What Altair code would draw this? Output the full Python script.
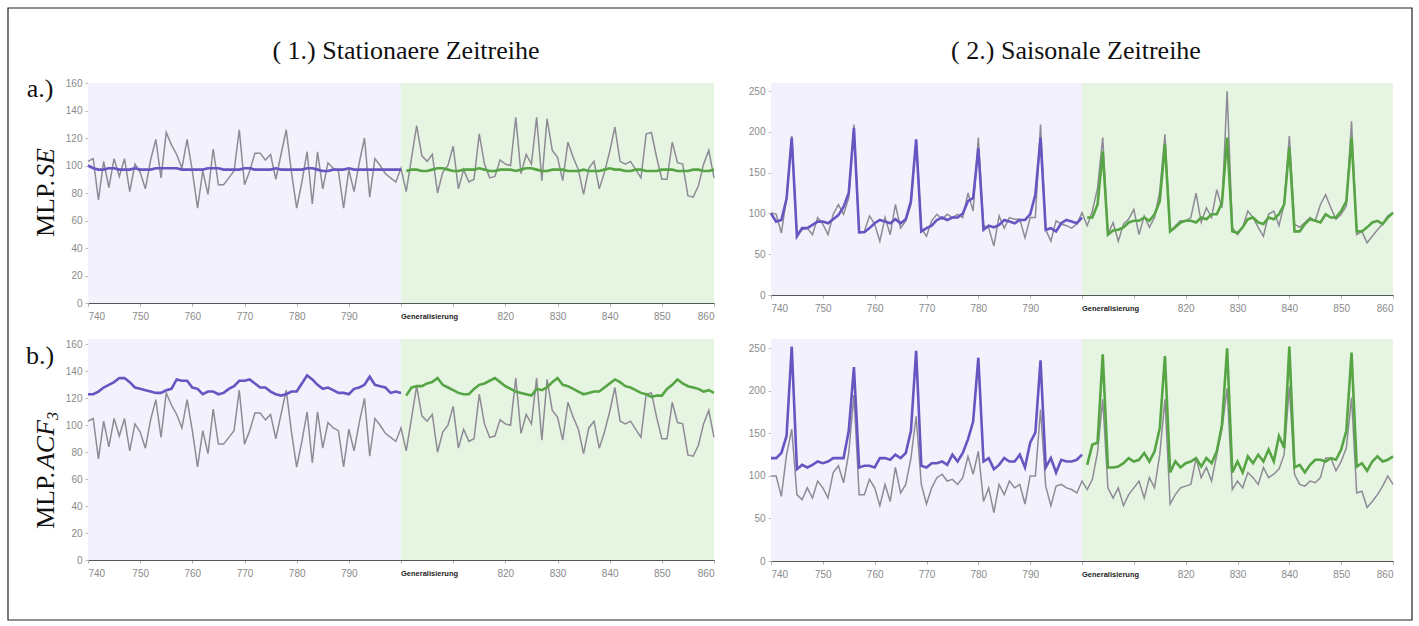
import altair as alt
import pandas as pd

# ---------------- data ----------------
t_all = list(range(740, 861))
t_fit = list(range(740, 801))
t_fc = list(range(801, 861))

stat_actual = [103,105,75,103,84,105,92,105,81,101,
               95,83,104,119,91,124,115,108,98,119,
               96,69,96,79,112,86,86,91,96,126,
               86,96,109,109,104,108,90,108,126,95,
               69,88,110,72,110,83,102,98,96,69,
               97,81,102,120,77,105,100,94,91,88,
               98,81,105,129,107,103,108,80,95,100,
               114,83,97,88,90,123,101,91,92,104,
               101,100,135,94,108,101,135,89,134,111,
               106,89,117,106,97,79,98,103,83,95,
               110,128,103,101,103,97,91,123,124,106,
               90,90,117,102,101,78,77,85,101,111,
               91]

stat_fit_a = [100,98,97,97,98,98,97,97,97,98,
              97,97,97,98,98,98,98,98,97,97,
              97,97,97,98,98,98,97,97,97,97,
              98,98,97,97,97,97,98,97,97,97,
              97,97,98,98,97,96,96,97,97,97,
              98,97,97,97,97,97,97,97,97,97,
              97]
stat_fc_a = [96,97,97,96,96,97,98,98,97,96,
             96,97,97,97,98,97,96,96,97,97,
             97,96,97,98,98,97,96,96,97,97,
             97,96,96,96,97,96,96,96,97,98,
             97,97,96,96,97,97,96,96,96,97,
             97,97,96,96,96,97,97,96,96,97]

stat_fit_b = [123,123,125,128,130,132,135,135,132,128,
              127,126,125,124,124,126,127,134,133,133,
              128,127,123,125,125,123,124,127,129,133,
              133,134,131,128,128,125,123,122,123,125,
              125,131,137,134,130,127,128,126,124,124,
              123,127,128,130,136,130,129,128,124,125,
              124]
stat_fc_b = [122,128,129,129,131,132,135,130,128,126,
             124,123,123,127,130,131,133,135,132,129,
             127,125,124,123,122,127,126,128,132,135,
             130,129,127,125,123,124,125,125,128,131,
             134,132,129,128,126,124,123,121,122,122,
             127,130,134,131,129,128,127,125,126,124]

seas_actual_a = [101,99,76,119,195,74,80,82,74,95,
                 87,74,99,111,99,119,209,76,78,97,
                 87,66,95,74,111,82,91,111,191,82,
                 72,91,99,93,99,95,99,95,125,103,
                 193,85,82,60,97,82,95,93,93,70,
                 95,95,209,80,66,91,87,85,82,87,
                 101,85,103,131,193,74,89,66,87,93,
                 105,74,97,83,95,127,197,78,85,91,
                 91,95,125,89,107,95,129,107,250,83,
                 74,83,103,95,83,72,99,103,85,111,
                 195,87,83,89,95,91,111,123,107,93,
                 99,109,213,74,78,64,72,80,87,97,
                 101]
seas_fit_a = [100,90,92,118,193,72,82,82,86,90,
              90,88,93,98,108,125,205,77,77,82,
              88,92,90,88,93,88,93,115,191,78,
              82,85,92,95,92,95,95,100,115,119,
              180,80,85,83,86,92,90,88,92,92,
              99,123,193,80,82,78,88,92,90,88,
              95]
seas_fc_a = [95,95,111,176,74,79,80,83,89,91,
             91,95,91,99,115,185,78,83,89,91,
             91,89,95,93,99,99,113,193,78,76,
             83,93,95,89,87,95,93,99,111,181,
             78,78,87,93,91,89,99,95,95,103,
             115,193,78,78,83,89,91,87,95,101]

seas_actual_b = [100,100,76,125,155,78,72,86,74,94,
                 86,74,104,112,92,127,195,78,78,96,
                 86,65,90,70,110,80,90,121,170,90,
                 67,86,98,102,94,96,90,98,123,102,
                 129,70,86,57,90,78,94,86,90,67,
                 100,100,178,88,65,88,90,86,84,80,
                 94,84,96,128,190,86,74,86,65,78,
                 86,94,74,98,86,125,190,67,78,86,
                 88,90,121,98,110,94,125,155,203,84,
                 94,86,104,98,90,110,98,102,108,125,
                 205,102,90,88,94,92,98,121,121,106,
                 117,133,192,80,82,63,70,78,88,100,
                 90]
seas_fit_b = [121,121,127,147,252,108,113,110,113,117,
              115,117,121,121,121,153,228,110,112,112,
              110,121,121,119,125,121,127,153,247,112,
              110,115,115,117,113,125,117,127,143,164,
              239,117,121,108,113,121,117,117,125,110,
              139,151,236,110,121,104,119,117,117,119,
              125]
seas_fc_b = [113,137,139,243,110,110,111,115,121,117,
             119,127,117,129,156,241,104,117,110,115,
             117,121,111,121,115,129,160,250,104,117,
             104,123,115,125,117,131,117,147,133,252,
             110,113,104,113,119,119,117,121,119,131,
             153,245,111,115,106,117,123,117,119,123]

x_ticks = list(range(740, 861, 10))
y_ticks_stat = list(range(0, 161, 20))
y_ticks_seas = list(range(0, 251, 50))

col_titles = ["( 1.) Stationaere Zeitreihe", "( 2.) Saisonale Zeitreihe"]
row_tags = ["a.)", "b.)"]
gen_label = "Generalisierung"

# ---------------- styling ----------------
GRAY = "#8e8a96"
PURPLE = "#6656c2"
GREEN = "#56a444"
BG_P = "#f3f1fb"
BG_G = "#e5f5e1"
SERIF = "Liberation Serif"
FS = 26  # serif text size


def panel(actual, fit, fc, ymax, yticks, w, h):
    xs = alt.Scale(domain=[740, 860], nice=False, zero=False)
    ys = alt.Scale(domain=[0, ymax], nice=False)
    xax = alt.Axis(values=x_ticks, grid=False, title=None, labelColor="#8a8a8a",
                   labelFont="Liberation Sans", labelFontSize=10, labelPadding=5,
                   labelExpr="datum.value == 800 || datum.value == 810 ? '' : datum.label",
                   domainColor="#555555", domainWidth=1.2, tickColor="#aaaaaa", tickSize=3)
    yax = alt.Axis(values=yticks, grid=False, title=None, labelColor="#8a8a8a",
                   labelFont="Liberation Sans", labelFontSize=10, labelPadding=3,
                   domainColor="#b5b5b5", tickColor="#bbbbbb", tickSize=3)
    X = lambda f: alt.X(f, scale=xs, axis=xax)
    Y = lambda f: alt.Y(f, scale=ys, axis=yax)

    bgdf = pd.DataFrame({"a": [740, 800], "b": [800, 860], "k": ["fit", "gen"]})
    bg = alt.Chart(bgdf).mark_rect().encode(
        x=X("a:Q"), x2="b:Q", y=alt.value(0), y2=alt.value(h),
        color=alt.Color("k:N", scale=alt.Scale(domain=["fit", "gen"], range=[BG_P, BG_G]), legend=None))

    da = pd.DataFrame({"t": t_all, "v": actual})
    dfit = pd.DataFrame({"t": t_fit, "v": fit})
    dfc = pd.DataFrame({"t": t_fc, "v": fc})
    la = alt.Chart(da).mark_line(color=GRAY, strokeWidth=1.5).encode(x=X("t:Q"), y=Y("v:Q"))
    lf = alt.Chart(dfit).mark_line(color=PURPLE, strokeWidth=2.6).encode(x=X("t:Q"), y=Y("v:Q"))
    lc = alt.Chart(dfc).mark_line(color=GREEN, strokeWidth=2.6).encode(x=X("t:Q"), y=Y("v:Q"))
    gen = alt.Chart(pd.DataFrame({"s": [gen_label]})).mark_text(
        align="left", baseline="middle", fontSize=7.5, fontWeight="bold",
        font="Liberation Sans", color="#222222").encode(
        x=alt.datum(800), y=alt.value(h + 14), text="s:N")
    return [bg, la, lf, lc, gen]


def txt(s, x, y, size=FS, angle=0, align="center", style="normal"):
    kw = dict(align=align, baseline="middle", fontSize=size, font=SERIF,
              color="#111111", fontStyle=style)
    if angle:
        kw["angle"] = angle
    return alt.Chart(pd.DataFrame({"s": [s]})).mark_text(**kw).encode(
        text="s:N", x=alt.value(x), y=alt.value(y))


W_L, W_R = 626, 622
H1, H3 = 220, 221
H2, H4 = 212, 222

MLP_W = 2.306 * FS  # width of "MLP." in Times metrics
ACF_W = 1.889 * FS

frame = alt.Chart(pd.DataFrame({"s": [1]})).mark_rect(
    fillOpacity=0, stroke="#222222", strokeWidth=1.2).encode(
    x=alt.value(-80), x2=alt.value(1324), y=alt.value(-75), y2=alt.value(537))

p1 = alt.layer(
    *panel(stat_actual, stat_fit_a, stat_fc_a, 160, y_ticks_stat, W_L, H1),
    frame,
    txt(col_titles[0], 318, -32),
    txt(row_tags[0], -48, 6),
    txt("MLP.", -42, 154, angle=270, align="left"),
    txt("SE", -42, 154 - MLP_W, angle=270, align="left", style="italic"),
).properties(width=W_L, height=H1)

p3 = alt.layer(
    *panel(stat_actual, stat_fit_b, stat_fc_b, 164, y_ticks_stat, W_L, H3),
    txt(row_tags[1], -48, 17),
    txt("MLP.", -42, 190, angle=270, align="left"),
    txt("ACF", -42, 190 - MLP_W, angle=270, align="left", style="italic"),
    txt("3", -35, 190 - MLP_W - ACF_W, size=int(FS * 0.65), angle=270, align="left", style="italic"),
).properties(width=W_L, height=H3)

p2 = alt.layer(
    *panel(seas_actual_a, seas_fit_a, seas_fc_a, 260, y_ticks_seas, W_R, H2),
    txt(col_titles[1], 305, -32),
).properties(width=W_R, height=H2)

p4 = alt.layer(
    *panel(seas_actual_b, seas_fit_b, seas_fc_b, 261, y_ticks_seas, W_R, H4),
).properties(width=W_R, height=H4)

chart = alt.concat(
    p1, p2, p3, p4, columns=2, bounds="flush",
    spacing={"row": 36, "column": 57},
).properties(
    padding={"left": 7, "top": 7, "right": 0, "bottom": 0},
    background="white",
).configure_view(stroke=None)

chart.save("out.html", embed_options={"renderer": "svg", "actions": False})
